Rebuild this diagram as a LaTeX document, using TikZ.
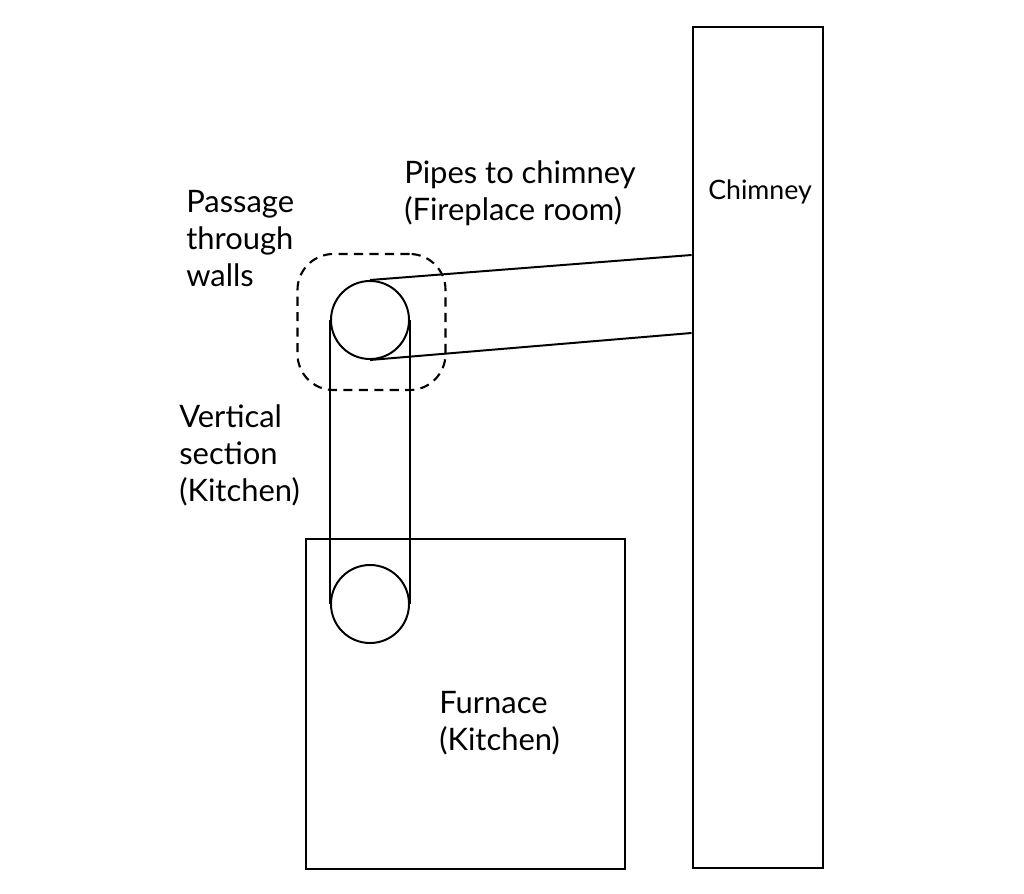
\documentclass[tikz,border=0pt]{standalone}
\usepackage{fontspec}
\setmainfont{Lato}
\usetikzlibrary{positioning}

\tikzset{
  wall/.style={draw, line width=1.5pt, inner sep=0pt, minimum width=#1},
  pipe/.style={draw, circle, line width=1.4pt, inner sep=0pt, minimum size=1.95cm},
  tube/.style={line width=1.4pt},
  lbl/.style={font=\fontsize{22}{26.5}\selectfont, align=left, anchor=north west, inner sep=0pt},
}

\begin{document}
\begin{tikzpicture}[x=0.025cm, y=-0.025cm]
\useasboundingbox (0,0) rectangle (1024,893);

% chimney and furnace
\node[wall=3.27cm, minimum height=21.02cm] (chimney) at (758,447.5) {};
\node[wall=7.97cm, minimum height=8.25cm] (furnace) at (465.5,704) {};

% pipe sections
\node[pipe] (elbow) at (370,320) {};
\node[pipe] (outlet) at (370,604) {};

\coordinate (roofjoin) at (chimney.west |- 0,255);
\coordinate (floorjoin) at (chimney.west |- 0,333);

\draw[tube] (elbow.north) -- (roofjoin);
\draw[tube] (elbow.south) -- (floorjoin);
\draw[tube] (elbow.west) -- (outlet.west);
\draw[tube] (elbow.east) -- (outlet.east);

% passage through the wall
\node[draw, dash pattern=on 6.5pt off 4.5pt, line width=1.5pt, rounded corners=0.9cm, minimum width=3.7cm,
      minimum height=3.4cm, inner sep=0pt] (passage) at (371.5,322) {};

% labels
\node[lbl] (lblpipes) at (404,160) {Pipes to chimney\\(Fireplace room)};
\node[lbl] (lblpassage) at (186,190) {Passage\\through\\walls};
\node[lbl] (lblvertical) at (179,404) {Vertical\\section\\(Kitchen)};
\node[lbl] (lblfurnace) at (439,691) {Furnace\\(Kitchen)};
\node[lbl, font=\fontsize{19}{24}\selectfont] (lblchimney) at (708,180) {Chimney};

\end{tikzpicture}
\end{document}
